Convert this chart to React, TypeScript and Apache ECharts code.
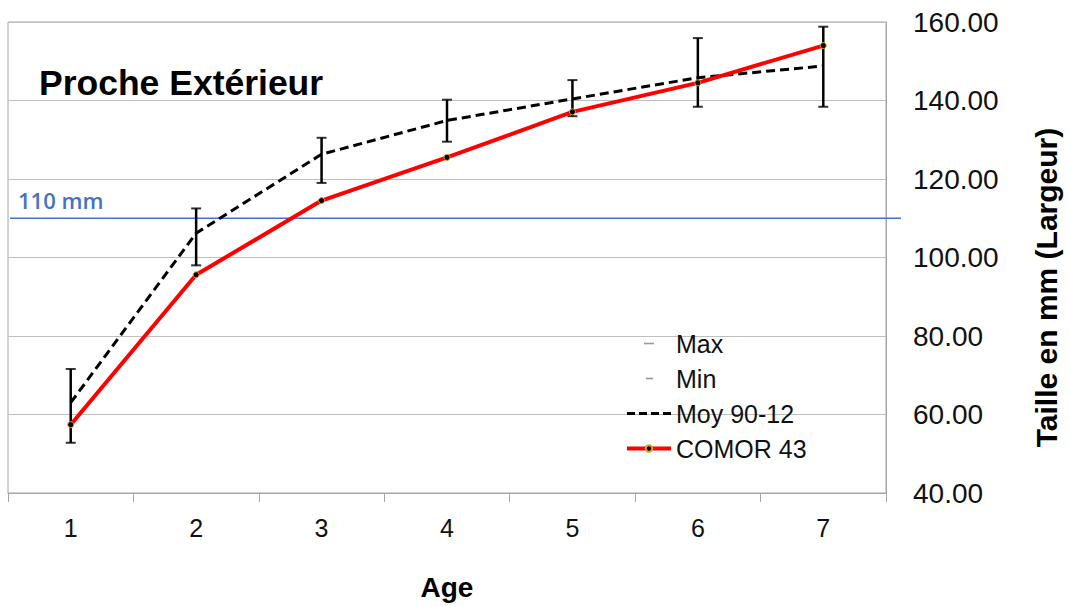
import React, { useEffect, useRef } from "react";
import * as echarts from "echarts";

const categories = ["1", "2", "3", "4", "5", "6", "7"];
const maxValues = [71.6, 112.5, 130.5, 140.2, 145.2, 155.9, 158.8];
const minValues = [52.8, 98.0, 119.0, 129.5, 136.0, 138.4, 138.4];
const moyValues = [63.0, 106.2, 126.3, 134.9, 140.4, 145.8, 148.8];
const comorValues = [57.4, 95.6, 114.5, 125.5, 137.1, 144.5, 154.0];
const thresholdValue = 110;
const thresholdLabel = "110 mm";
const yTicks = { min: 40, max: 160, interval: 20 };

const FONT = "'Liberation Sans', Arial, Helvetica, sans-serif";

export default function App() {
  const ref = useRef<HTMLDivElement>(null);

  useEffect(() => {
    if (!ref.current) return;
    const chart = echarts.init(ref.current, null, { renderer: "svg" });
    const errorData = categories.map((_, i) => [i, maxValues[i], minValues[i]]);

    chart.setOption({
      animation: false,
      backgroundColor: "#ffffff",
      textStyle: { fontFamily: FONT },
      title: {
        text: "Proche Extérieur",
        left: 34,
        top: 60,
        textStyle: { fontFamily: FONT, fontSize: 35.5, fontWeight: "bold", color: "#000" },
      },
      legend: {
        orient: "vertical",
        left: 620,
        top: 326,
        itemWidth: 44,
        itemHeight: 8,
        itemGap: 10,
        textStyle: { fontFamily: FONT, fontSize: 25, color: "#111", lineHeight: 25 },
        data: [
          {
            name: "Max",
            icon: "path://M0,0 M44,8 M17,3.2h10v1.6h-10z",
            itemStyle: { color: "#808080" },
          },
          {
            name: "Min",
            icon: "path://M0,0 M44,8 M19,3.2h7v1.6h-7z",
            itemStyle: { color: "#808080" },
          },
          {
            name: "Moy 90-12",
            icon: "path://M0,0 M44,8 M0,2.6h8v2.8h-8z M12,2.6h8v2.8h-8z M24,2.6h8v2.8h-8z M36,2.6h8v2.8h-8z",
            itemStyle: { color: "#000" },
          },
          { name: "COMOR 43", lineStyle: { width: 4, color: "#ff0000" } },
        ],
      },
      grid: {
        left: 8,
        right: 180,
        top: 22,
        bottom: 107,
        show: true,
        borderColor: "#a6a6a6",
        borderWidth: 1,
        backgroundColor: "transparent",
      },
      xAxis: {
        type: "category",
        data: categories,
        boundaryGap: true,
        name: "Age",
        nameLocation: "middle",
        nameGap: 80,
        nameTextStyle: { fontFamily: FONT, fontSize: 28, fontWeight: "bold", color: "#000" },
        axisLine: { lineStyle: { color: "#a6a6a6", width: 1 } },
        axisTick: { show: true, length: 9, lineStyle: { color: "#a6a6a6" } },
        axisLabel: { fontFamily: FONT, fontSize: 25, color: "#111", margin: 22 },
        splitLine: { show: false },
      },
      yAxis: {
        type: "value",
        position: "right",
        min: yTicks.min,
        max: yTicks.max,
        interval: yTicks.interval,
        name: "Taille en mm (Largeur)",
        nameLocation: "middle",
        nameRotate: 90,
        nameGap: 145,
        nameTextStyle: {
          fontFamily: FONT,
          fontSize: 30,
          fontWeight: "bold",
          color: "#000",
          padding: [0, 60, 0, 0],
        },
        axisLine: { show: true, lineStyle: { color: "#a6a6a6" } },
        axisTick: { show: false },
        axisLabel: {
          fontFamily: FONT,
          fontSize: 28,
          color: "#111",
          margin: 27,
          formatter: (v: number) => v.toFixed(2),
        },
        splitLine: { show: true, lineStyle: { color: "#bfbfbf", width: 1 } },
      },
      series: [
        {
          name: "ErrorBars",
          type: "custom",
          z: 3,
          data: errorData,
          renderItem: (params: any, api: any) => {
            const x = api.value(0);
            const hi = api.coord([x, api.value(1)]);
            const lo = api.coord([x, api.value(2)]);
            return {
              type: "line",
              shape: { x1: hi[0], y1: hi[1], x2: lo[0], y2: lo[1] },
              style: { stroke: "#000", lineWidth: 2.5 },
            };
          },
        },
        {
          name: "Max",
          type: "scatter",
          z: 3,
          symbol: "rect",
          symbolSize: [10, 2],
          itemStyle: { color: "#000" },
          data: maxValues,
        },
        {
          name: "Min",
          type: "scatter",
          z: 3,
          symbol: "rect",
          symbolSize: [10, 2],
          itemStyle: { color: "#000" },
          data: minValues,
        },
        {
          name: "Moy 90-12",
          type: "line",
          z: 4,
          symbol: "none",
          data: moyValues,
          lineStyle: { color: "#000", width: 3, type: [9, 5] },
          itemStyle: { color: "#000" },
        },
        {
          name: "COMOR 43",
          type: "line",
          z: 5,
          symbol: "circle",
          symbolSize: 6,
          data: comorValues,
          lineStyle: { color: "#ff0000", width: 4 },
          itemStyle: { color: "#000", borderColor: "#d9a21b", borderWidth: 1 },
        },
      ],
    });

    const yPix = chart.convertToPixel({ yAxisIndex: 0 }, thresholdValue) as number;
    chart.setOption({
      graphic: [
        {
          type: "line",
          shape: { x1: 10, y1: yPix, x2: 901, y2: yPix },
          style: { stroke: "#4472c4", lineWidth: 1.5 },
          z: 2,
        },
        {
          type: "text",
          left: 18,
          top: yPix - 29,
          style: {
            text: thresholdLabel,
            fill: "#4472c4",
            font: "600 22px 'Open Sans', 'Liberation Sans', sans-serif",
          },
        },
      ],
    });

    return () => chart.dispose();
  }, []);

  return (
    <div
      ref={ref}
      style={{ position: "fixed", left: 0, top: 0, width: 1069, height: 606 }}
    />
  );
}
